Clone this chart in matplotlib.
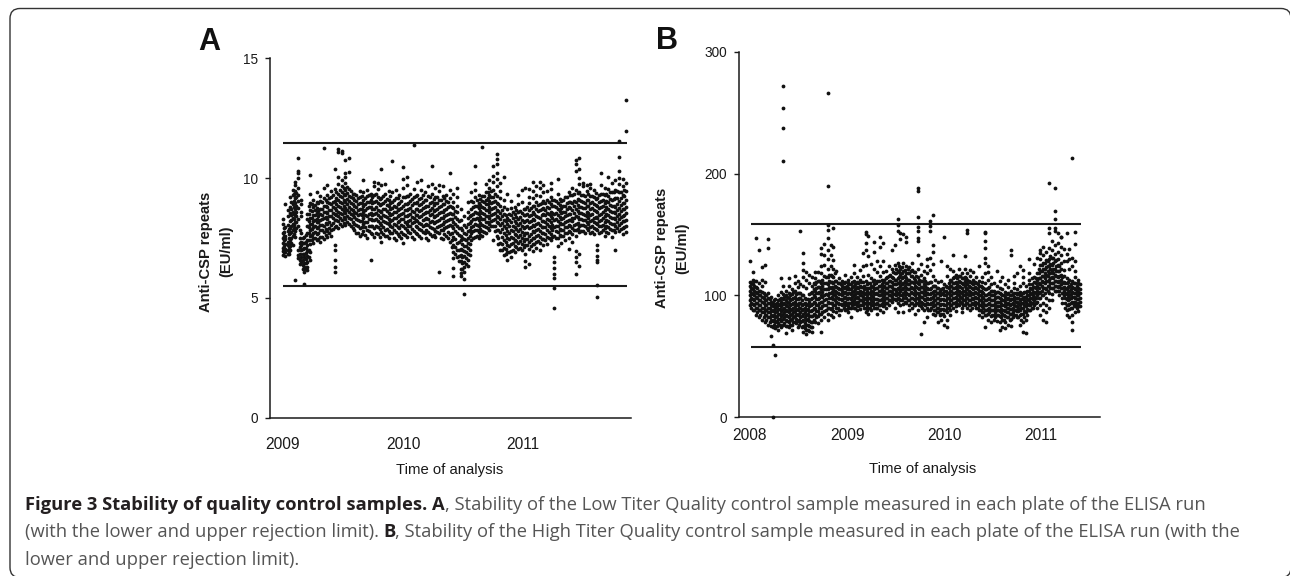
import matplotlib
matplotlib.use('Agg')
import matplotlib.pyplot as plt
from matplotlib.patches import FancyBboxPatch
from matplotlib.transforms import IdentityTransform

W, H = 1290, 576

# panel A, low titer: sampling time (year) and the plates read at that time
a_time = [2009.00, 2009.02, 2009.04, 2009.06, 2009.08, 2009.10, 2009.125, 2009.15, 2009.175, 2009.20,
          2009.225, 2009.25, 2009.28, 2009.31, 2009.34, 2009.37, 2009.40, 2009.43, 2009.46, 2009.49,
          2009.52, 2009.55, 2009.58, 2009.61, 2009.64, 2009.67, 2009.70, 2009.73, 2009.76, 2009.79,
          2009.82, 2009.85, 2009.88, 2009.91, 2009.94, 2009.97, 2010.00, 2010.03, 2010.06, 2010.09,
          2010.12, 2010.15, 2010.18, 2010.21, 2010.24, 2010.27, 2010.30, 2010.33, 2010.36, 2010.39,
          2010.42, 2010.45, 2010.48, 2010.51, 2010.54, 2010.57, 2010.60, 2010.63, 2010.66, 2010.69,
          2010.72, 2010.75, 2010.78, 2010.81, 2010.84, 2010.87, 2010.90, 2010.93, 2010.96, 2010.99,
          2011.02, 2011.05, 2011.08, 2011.11, 2011.14, 2011.17, 2011.20, 2011.23, 2011.26, 2011.29,
          2011.32, 2011.35, 2011.38, 2011.41, 2011.44, 2011.47, 2011.50, 2011.53, 2011.56, 2011.59,
          2011.62, 2011.65, 2011.68, 2011.71, 2011.74, 2011.77, 2011.80, 2011.83, 2011.86]
a_vals = [
    [6.8, 6.95, 7.1, 7.3, 7.5, 7.7, 8.1, 8.3],
    [6.75, 6.9, 7.05, 7.25, 7.45, 7.6, 7.95, 8.9],
    [6.85, 7.0, 7.2, 7.35, 7.8, 8.05, 8.4, 8.65],
    [7.0, 7.15, 7.4, 7.7, 7.9, 8.2, 8.55, 8.8, 9.2],
    [7.2, 7.6, 7.85, 8.1, 8.35, 8.6, 8.9, 9.3, 9.5],
    [5.75, 7.55, 7.8, 8.15, 8.45, 8.7, 8.95, 9.15, 9.45, 9.7, 9.85],
    [6.65, 6.8, 7.0, 8.0, 8.3, 8.75, 9.05, 9.3, 9.6, 10.0, 10.2, 10.3, 10.85],
    [6.5, 6.7, 7.0, 7.2, 7.35, 7.7, 8.4, 8.6, 8.9, 9.1],
    [5.6, 6.1, 6.2, 6.3, 6.45, 6.7, 6.85, 7.1, 7.3, 7.55],
    [6.15, 6.3, 6.5, 6.75, 6.95, 7.2, 7.4, 7.7, 8.0, 8.3, 8.5],
    [6.6, 6.9, 7.25, 7.6, 7.85, 8.1, 8.35, 8.65, 8.95, 9.35, 10.15],
    [7.3, 7.5, 7.7, 7.95, 8.2, 8.45, 8.8, 9.1],
    [7.4, 7.65, 7.9, 8.15, 8.3, 8.55, 8.75, 9.0, 9.4],
    [7.35, 7.55, 7.85, 8.05, 8.25, 8.5, 8.7, 9.05, 9.25],
    [7.45, 7.75, 8.0, 8.35, 8.6, 8.85, 9.15, 9.6, 11.25],
    [7.55, 7.8, 8.1, 8.3, 8.55, 8.8, 9.0, 9.3, 9.7],
    [7.6, 7.85, 8.05, 8.4, 8.65, 8.9, 9.2, 9.45],
    [6.1, 6.3, 6.6, 7.0, 7.2, 7.95, 8.25, 8.5, 8.75, 9.05, 9.55, 10.4],
    [7.9, 8.2, 8.4, 8.6, 8.85, 9.1, 9.35, 9.75, 10.05, 11.1, 11.2],
    [8.0, 8.25, 8.5, 8.7, 8.95, 9.2, 9.4, 9.65, 9.9, 11.05, 11.15],
    [8.05, 8.3, 8.55, 8.75, 9.0, 9.3, 9.5, 9.8, 10.05, 10.2, 10.75],
    [8.1, 8.35, 8.6, 8.8, 9.05, 9.25, 9.55, 10.25, 10.85],
    [7.9, 8.15, 8.45, 8.65, 8.9, 9.15, 9.35],
    [7.7, 8.05, 8.3, 8.55, 8.8, 9.05, 9.3],
    [7.6, 7.9, 8.2, 8.5, 8.7, 8.95, 9.2, 9.45],
    [7.8, 8.1, 8.35, 8.6, 8.85, 9.1, 9.4, 9.9],
    [7.5, 7.85, 8.15, 8.4, 8.75, 9.0, 9.25, 9.5],
    [6.6, 7.7, 8.0, 8.3, 8.55, 8.8, 9.1, 9.35],
    [7.55, 7.9, 8.25, 8.5, 8.7, 9.0, 9.3, 9.65, 9.85],
    [7.65, 7.95, 8.2, 8.45, 8.65, 8.95, 9.2, 9.55, 9.8],
    [7.35, 7.75, 8.05, 8.35, 8.6, 8.9, 9.15, 9.7, 10.4],
    [7.6, 7.85, 8.15, 8.4, 8.7, 9.05, 9.35, 9.75],
    [7.5, 7.8, 8.1, 8.3, 8.55, 8.85, 9.1, 9.45],
    [7.7, 7.95, 8.25, 8.5, 8.75, 9.0, 9.4, 10.7],
    [7.4, 7.75, 8.05, 8.35, 8.6, 8.8, 9.15, 9.5],
    [7.6, 7.9, 8.2, 8.45, 8.7, 8.95, 9.3],
    [7.3, 7.65, 8.0, 8.3, 8.55, 8.85, 9.2, 9.6, 9.95, 10.45],
    [7.55, 7.85, 8.1, 8.4, 8.65, 8.9, 9.25, 9.7, 10.05],
    [7.7, 8.0, 8.25, 8.5, 8.75, 9.05, 9.35],
    [7.45, 7.8, 8.15, 8.35, 8.6, 8.95, 9.2, 9.55, 11.4],
    [7.65, 7.95, 8.2, 8.45, 8.7, 9.0, 9.3, 9.85],
    [7.5, 7.85, 8.1, 8.4, 8.65, 8.9, 9.15, 9.5, 9.9],
    [7.7, 8.05, 8.3, 8.55, 8.8, 9.1, 9.4],
    [7.4, 7.75, 8.05, 8.3, 8.6, 8.85, 9.25, 9.65],
    [7.6, 7.9, 8.2, 8.5, 8.75, 9.0, 9.35, 9.75, 10.5],
    [7.55, 7.8, 8.15, 8.4, 8.65, 8.95, 9.2, 9.6],
    [6.1, 7.7, 8.0, 8.25, 8.55, 8.8, 9.1, 9.45, 9.7],
    [7.45, 7.85, 8.1, 8.35, 8.6, 8.9, 9.25, 9.65],
    [7.6, 7.95, 8.2, 8.45, 8.7, 9.05, 9.3],
    [7.35, 7.65, 8.05, 8.3, 8.55, 8.85, 9.15, 9.5, 10.2],
    [5.9, 6.25, 6.65, 6.9, 7.2, 7.55, 7.9, 8.15, 8.5, 8.75, 9.0, 9.35],
    [6.7, 7.0, 7.3, 7.7, 8.0, 8.3, 8.6, 8.85, 9.2, 9.6],
    [5.9, 6.05, 6.2, 6.55, 6.8, 7.05, 7.4, 7.6, 7.9, 8.25, 8.7],
    [5.15, 5.8, 6.1, 6.3, 6.5, 6.75, 6.95, 7.15, 7.45, 7.7, 8.05, 8.4],
    [6.35, 6.6, 6.85, 7.1, 7.3, 7.5, 7.8, 8.1, 8.35, 8.6, 9.0],
    [7.4, 7.7, 7.95, 8.2, 8.45, 8.7, 9.05, 9.4],
    [7.55, 7.85, 8.1, 8.3, 8.6, 8.85, 9.2, 9.5, 9.8, 10.5],
    [7.5, 7.75, 8.0, 8.25, 8.5, 8.75, 8.95, 9.3],
    [7.6, 7.8, 8.05, 8.3, 8.55, 8.8, 9.05, 9.25, 11.3],
    [7.7, 7.95, 8.15, 8.4, 8.65, 8.9, 9.1, 9.4, 9.75],
    [7.85, 8.1, 8.35, 8.6, 8.8, 9.05, 9.3, 9.6, 9.9],
    [7.4, 8.0, 8.25, 8.5, 8.75, 9.0, 9.2, 9.5, 9.85, 10.1, 10.5],
    [7.6, 7.85, 8.15, 8.4, 8.65, 8.95, 9.25, 9.65, 9.95, 10.2, 10.6, 10.8, 11.0],
    [7.0, 7.3, 7.75, 8.05, 8.3, 8.55, 8.85, 9.15, 9.45, 9.8],
    [6.8, 7.1, 7.4, 7.7, 8.0, 8.25, 8.5, 8.8, 9.1, 10.05],
    [6.6, 6.9, 7.2, 7.5, 7.8, 8.1, 8.35, 8.7, 9.35],
    [6.7, 6.95, 7.25, 7.55, 7.85, 8.15, 8.45, 8.75, 9.05],
    [6.9, 7.15, 7.4, 7.65, 7.95, 8.2, 8.5, 8.8],
    [7.05, 7.3, 7.55, 7.8, 8.05, 8.3, 8.6, 8.9, 9.3],
    [7.0, 7.25, 7.5, 7.75, 8.0, 8.25, 8.55, 9.0, 9.5],
    [6.3, 6.55, 6.85, 7.2, 7.45, 7.7, 7.95, 8.2, 8.45, 8.7, 9.6],
    [6.4, 7.05, 7.35, 7.6, 7.9, 8.15, 8.4, 8.65, 8.95, 9.2, 9.55],
    [6.95, 7.25, 7.5, 7.8, 8.05, 8.3, 8.6, 8.85, 9.15, 9.45, 9.85],
    [7.1, 7.35, 7.6, 7.85, 8.1, 8.4, 8.7, 9.0, 9.3, 9.65],
    [7.0, 7.3, 7.55, 7.8, 8.05, 8.35, 8.65, 8.9, 9.25, 9.6, 9.85],
    [7.2, 7.45, 7.7, 7.95, 8.2, 8.5, 8.75, 9.05, 9.4, 9.7],
    [7.25, 7.55, 7.85, 8.1, 8.3, 8.55, 8.8, 9.1, 9.45],
    [7.4, 7.65, 7.9, 8.15, 8.4, 8.6, 8.9, 9.2, 9.55, 9.8],
    [5.4, 4.56, 5.85, 6.0, 6.25, 6.5, 6.7, 7.6, 7.95, 8.25, 8.5, 8.85, 9.1],
    [7.15, 7.5, 7.75, 8.0, 8.2, 8.45, 8.7, 8.95, 9.35, 9.95],
    [7.3, 7.6, 7.85, 8.1, 8.3, 8.55, 8.75, 9.05],
    [7.4, 7.7, 7.95, 8.15, 8.4, 8.6, 8.85, 9.2],
    [7.05, 7.5, 7.8, 8.05, 8.25, 8.5, 8.8, 9.0, 9.4],
    [7.35, 7.65, 7.9, 8.2, 8.35, 8.65, 8.95, 9.3, 9.6],
    [6.0, 6.5, 6.7, 6.95, 7.6, 7.85, 8.1, 8.4, 8.7, 9.0, 9.5, 10.3, 10.6, 10.75],
    [6.35, 6.85, 7.75, 8.0, 8.3, 8.55, 8.8, 9.1, 9.4, 9.75, 10.0, 10.4, 10.85],
    [7.8, 8.05, 8.25, 8.5, 8.75, 9.0, 9.3, 9.65, 9.8],
    [7.9, 8.15, 8.4, 8.6, 8.85, 9.1, 9.45, 9.7],
    [7.7, 7.95, 8.2, 8.45, 8.7, 8.95, 9.25, 9.6, 9.75],
    [7.65, 7.9, 8.15, 8.35, 8.65, 8.9, 9.2, 9.5],
    [5.05, 5.55, 6.5, 6.6, 6.75, 7.0, 7.2, 7.85, 8.1, 8.35, 8.6, 8.85, 9.15],
    [7.75, 8.0, 8.25, 8.5, 8.8, 9.05, 9.35, 9.7, 10.2],
    [7.6, 7.9, 8.15, 8.4, 8.65, 8.95, 9.3, 9.6],
    [7.7, 7.95, 8.2, 8.45, 8.7, 9.0, 9.25, 9.55, 10.05],
    [7.55, 7.85, 8.1, 8.35, 8.6, 8.85, 9.1, 9.4, 9.8],
    [7.0, 7.75, 8.0, 8.3, 8.55, 8.8, 9.15, 9.5, 9.9],
    [7.8, 8.05, 8.3, 8.5, 8.75, 9.05, 9.4, 9.75, 10.0, 10.3, 11.55, 10.9],
    [7.65, 7.9, 8.2, 8.4, 8.7, 8.95, 9.3, 9.65, 9.95],
    [7.75, 8.0, 8.25, 8.55, 8.8, 9.1, 9.45, 9.8, 13.25, 11.95],
    [7.07, 7.85, 8.1, 8.35, 8.6, 8.9, 9.2, 9.55, 9.9, 10.1, 10.25, 11.05, 11.38],
]

# second reading of the dense band in A, between the columns above
a_time2 = [2009.01, 2009.05, 2009.07, 2009.09, 2009.11, 2009.14, 2009.165, 2009.19, 2009.215, 2009.24,
           2009.265, 2009.295, 2009.325, 2009.355, 2009.385, 2009.415, 2009.445, 2009.475, 2009.505, 2009.535,
           2009.565, 2009.595, 2009.625, 2009.655, 2009.685, 2009.715, 2009.745, 2009.775, 2009.805, 2009.835,
           2009.865, 2009.895, 2009.925, 2009.955, 2009.985, 2010.015, 2010.045, 2010.075, 2010.105, 2010.135,
           2010.165, 2010.195, 2010.225, 2010.255, 2010.285, 2010.315, 2010.345, 2010.375, 2010.405, 2010.435,
           2010.465, 2010.495, 2010.525, 2010.555, 2010.585, 2010.615, 2010.645, 2010.675, 2010.705, 2010.735,
           2010.765, 2010.795, 2010.825, 2010.855, 2010.885, 2010.915, 2010.945, 2010.975, 2011.005, 2011.035,
           2011.065, 2011.095, 2011.125, 2011.155, 2011.185, 2011.215, 2011.245, 2011.275, 2011.305, 2011.335,
           2011.365, 2011.395, 2011.425, 2011.455, 2011.485, 2011.515, 2011.545, 2011.575, 2011.605, 2011.635,
           2011.665, 2011.695, 2011.725, 2011.755, 2011.785, 2011.815, 2011.845]
a_vals2 = [
    [6.9, 7.02, 7.18, 7.4, 7.58, 7.75, 7.9],
    [6.82, 6.97, 7.12, 7.28, 7.52, 7.66, 7.88],
    [7.28, 7.52, 7.76, 8.0, 8.26, 8.46, 8.72, 9.02],
    [7.66, 7.92, 8.04, 8.28, 8.52, 8.78, 9.06, 9.32],
    [7.9, 8.16, 8.42, 8.6, 8.84, 9.22, 9.38],
    [6.42, 6.6, 6.84, 7.12, 7.3, 7.52, 7.82],
    [6.2, 6.38, 6.58, 6.82, 7.04, 7.28, 7.48],
    [6.26, 6.46, 6.62, 6.88, 7.08, 7.34, 7.62],
    [6.72, 7.02, 7.42, 7.72, 7.96, 8.22, 8.52, 8.82],
    [7.42, 7.62, 7.86, 8.08, 8.32, 8.62, 8.92],
    [7.52, 7.74, 8.02, 8.24, 8.44, 8.66, 8.86],
    [7.46, 7.7, 7.96, 8.18, 8.42, 8.64, 8.94],
    [7.56, 7.82, 8.06, 8.28, 8.48, 8.72, 9.02],
    [7.62, 7.88, 8.12, 8.38, 8.58, 8.82, 9.08],
    [7.7, 7.92, 8.18, 8.42, 8.68, 8.94, 9.16],
    [7.86, 8.12, 8.34, 8.56, 8.8, 9.02, 9.28],
    [8.02, 8.26, 8.46, 8.68, 8.92, 9.16, 9.42],
    [8.08, 8.32, 8.54, 8.78, 9.02, 9.26, 9.5],
    [8.12, 8.36, 8.62, 8.84, 9.08, 9.32, 9.58],
    [8.16, 8.42, 8.66, 8.9, 9.12, 9.36, 9.62],
    [8.02, 8.28, 8.5, 8.72, 8.96, 9.22, 9.46],
    [7.82, 8.08, 8.38, 8.6, 8.84, 9.1, 9.32],
    [7.72, 8.0, 8.26, 8.46, 8.68, 8.92, 9.18],
    [7.68, 7.96, 8.22, 8.48, 8.72, 8.98, 9.26],
    [7.62, 7.94, 8.18, 8.44, 8.66, 8.92, 9.16],
    [7.78, 8.02, 8.28, 8.52, 8.78, 9.02, 9.28],
    [7.68, 7.98, 8.24, 8.48, 8.72, 8.96, 9.22],
    [7.72, 8.02, 8.28, 8.54, 8.78, 9.04, 9.32],
    [7.56, 7.88, 8.14, 8.38, 8.64, 8.88, 9.12],
    [7.68, 7.96, 8.2, 8.46, 8.72, 8.98, 9.24],
    [7.58, 7.88, 8.12, 8.38, 8.62, 8.86, 9.14],
    [7.72, 7.98, 8.22, 8.48, 8.72, 8.98, 9.26],
    [7.52, 7.82, 8.08, 8.34, 8.58, 8.84, 9.08],
    [7.68, 7.94, 8.18, 8.42, 8.68, 8.92, 9.18],
    [7.48, 7.76, 8.04, 8.28, 8.52, 8.76, 9.04],
    [7.62, 7.92, 8.16, 8.42, 8.66, 8.92, 9.22],
    [7.74, 7.98, 8.22, 8.46, 8.72, 8.96, 9.24],
    [7.56, 7.86, 8.12, 8.38, 8.62, 8.88, 9.12],
    [7.72, 7.98, 8.24, 8.48, 8.72, 8.98, 9.26],
    [7.58, 7.88, 8.14, 8.38, 8.64, 8.88, 9.14],
    [7.76, 8.02, 8.26, 8.52, 8.76, 9.02, 9.28],
    [7.52, 7.82, 8.08, 8.34, 8.58, 8.84, 9.1],
    [7.66, 7.94, 8.18, 8.44, 8.68, 8.94, 9.22],
    [7.62, 7.86, 8.12, 8.36, 8.62, 8.88, 9.12],
    [7.74, 7.96, 8.22, 8.46, 8.72, 8.98, 9.2],
    [7.52, 7.82, 8.06, 8.32, 8.58, 8.84, 9.08],
    [7.66, 7.92, 8.16, 8.42, 8.66, 8.92, 9.18],
    [7.48, 7.76, 8.02, 8.26, 8.52, 8.78, 9.02],
    [7.12, 7.42, 7.72, 8.02, 8.28, 8.52, 8.78],
    [6.82, 7.14, 7.46, 7.78, 8.08, 8.36, 8.62],
    [6.52, 6.76, 7.02, 7.32, 7.62, 7.92, 8.22],
    [6.22, 6.46, 6.72, 6.98, 7.26, 7.52, 7.82],
    [6.42, 6.66, 6.92, 7.18, 7.42, 7.66, 7.96],
    [6.78, 7.02, 7.24, 7.58, 7.84, 8.12, 8.42],
    [7.52, 7.78, 8.02, 8.28, 8.52, 8.78, 9.02],
    [7.58, 7.82, 8.06, 8.32, 8.56, 8.82, 9.08],
    [7.64, 7.88, 8.12, 8.36, 8.62, 8.86, 9.12],
    [7.76, 8.02, 8.28, 8.52, 8.76, 9.02, 9.26],
    [7.92, 8.18, 8.42, 8.66, 8.92, 9.18, 9.42],
    [7.98, 8.22, 8.46, 8.72, 8.96, 9.22, 9.48],
    [7.78, 8.02, 8.28, 8.54, 8.78, 9.06, 9.32],
    [7.24, 7.52, 7.82, 8.12, 8.38, 8.62, 8.92],
    [6.98, 7.26, 7.56, 7.86, 8.14, 8.42, 8.68],
    [6.82, 7.06, 7.34, 7.62, 7.92, 8.22, 8.46],
    [6.92, 7.18, 7.46, 7.72, 7.98, 8.26, 8.52],
    [7.02, 7.28, 7.52, 7.78, 8.02, 8.32, 8.58],
    [7.12, 7.38, 7.62, 7.88, 8.12, 8.38, 8.68],
    [7.08, 7.36, 7.62, 7.86, 8.12, 8.38, 8.62],
    [7.12, 7.38, 7.64, 7.92, 8.18, 8.44, 8.72],
    [7.22, 7.46, 7.72, 7.98, 8.24, 8.52, 8.78],
    [7.16, 7.42, 7.68, 7.96, 8.22, 8.48, 8.76],
    [7.26, 7.52, 7.76, 8.02, 8.26, 8.52, 8.82],
    [7.36, 7.62, 7.88, 8.12, 8.36, 8.62, 8.88],
    [7.46, 7.72, 7.96, 8.22, 8.46, 8.72, 8.98],
    [7.42, 7.68, 7.94, 8.18, 8.44, 8.68, 8.96],
    [7.48, 7.74, 8.02, 8.26, 8.52, 8.76, 9.02],
    [7.56, 7.82, 8.06, 8.32, 8.56, 8.82, 9.08],
    [7.52, 7.78, 8.02, 8.28, 8.54, 8.78, 9.06],
    [7.62, 7.88, 8.12, 8.36, 8.62, 8.88, 9.12],
    [7.58, 7.84, 8.08, 8.34, 8.58, 8.84, 9.08],
    [7.72, 7.96, 8.22, 8.46, 8.72, 8.96, 9.22],
    [7.76, 8.02, 8.26, 8.52, 8.76, 9.02, 9.28],
    [7.82, 8.06, 8.32, 8.56, 8.82, 9.06, 9.32],
    [7.86, 8.12, 8.36, 8.62, 8.86, 9.12, 9.36],
    [7.78, 8.04, 8.28, 8.54, 8.78, 9.04, 9.3],
    [7.72, 7.98, 8.24, 8.48, 8.74, 8.98, 9.24],
    [7.82, 8.08, 8.32, 8.56, 8.82, 9.08, 9.34],
    [7.74, 8.02, 8.26, 8.52, 8.76, 9.02, 9.26],
    [7.86, 8.12, 8.36, 8.62, 8.86, 9.12, 9.38],
    [7.72, 7.98, 8.22, 8.48, 8.74, 9.02, 9.28],
    [7.82, 8.06, 8.32, 8.58, 8.82, 9.08, 9.34],
    [7.76, 8.02, 8.26, 8.52, 8.78, 9.04, 9.32],
    [7.88, 8.14, 8.38, 8.62, 8.88, 9.14, 9.42],
    [7.82, 8.08, 8.34, 8.58, 8.84, 9.12, 9.4],
    [7.92, 8.16, 8.42, 8.66, 8.92, 9.18, 9.46],
    [7.86, 8.12, 8.36, 8.62, 8.88, 9.16, 9.44],
    [7.96, 8.22, 8.46, 8.72, 8.98, 9.26, 9.52],
]

# panel B, high titer
b_time = [2008.00, 2008.03, 2008.06, 2008.09, 2008.12, 2008.155, 2008.19, 2008.22, 2008.237, 2008.26,
          2008.29, 2008.32, 2008.34, 2008.37, 2008.40, 2008.43, 2008.46, 2008.49, 2008.52, 2008.55,
          2008.58, 2008.61, 2008.64, 2008.67, 2008.70, 2008.73, 2008.76, 2008.803, 2008.83, 2008.86,
          2008.89, 2008.92, 2008.95, 2008.98, 2009.01, 2009.04, 2009.07, 2009.10, 2009.13, 2009.16,
          2009.19, 2009.22, 2009.25, 2009.28, 2009.31, 2009.34, 2009.37, 2009.40, 2009.43, 2009.46,
          2009.49, 2009.52, 2009.55, 2009.58, 2009.61, 2009.64, 2009.67, 2009.70, 2009.733, 2009.76,
          2009.79, 2009.82, 2009.85, 2009.88, 2009.91, 2009.94, 2009.97, 2010.00, 2010.03, 2010.06,
          2010.09, 2010.12, 2010.15, 2010.18, 2010.21, 2010.24, 2010.27, 2010.30, 2010.33, 2010.36,
          2010.39, 2010.42, 2010.45, 2010.48, 2010.51, 2010.54, 2010.57, 2010.60, 2010.63, 2010.66,
          2010.69, 2010.72, 2010.75, 2010.78, 2010.81, 2010.84, 2010.87, 2010.90, 2010.93, 2010.96,
          2010.99, 2011.02, 2011.05, 2011.08, 2011.11, 2011.14, 2011.17, 2011.20, 2011.23, 2011.26,
          2011.29, 2011.32, 2011.35, 2011.38]
b_vals = [
    [92, 96, 100, 104, 108, 111, 128],
    [88, 93, 97, 101, 105, 109, 113, 119],
    [84, 90, 94, 99, 103, 107, 112, 147],
    [82, 88, 92, 96, 100, 104, 110, 137],
    [80, 86, 90, 95, 99, 103, 108, 113, 123],
    [78, 84, 88, 92, 96, 100, 111, 125],
    [76, 82, 86, 90, 94, 98, 102, 146, 139],
    [75, 80, 84, 88, 92, 95, 99, 67],
    [0, 59, 74, 79, 83, 87, 91, 94],
    [51, 73, 78, 82, 86, 90, 93, 97],
    [72, 77, 81, 85, 89, 92, 96, 100],
    [74, 79, 83, 87, 91, 95, 98, 103, 114],
    [272, 254, 237, 210, 76, 81, 85, 89, 93, 97, 101, 108],
    [69, 75, 80, 84, 88, 92, 96, 100, 104],
    [74, 78, 82, 86, 90, 94, 98, 102, 108, 114],
    [72, 76, 81, 85, 89, 93, 97, 101, 105],
    [78, 83, 87, 91, 95, 99, 104, 110, 116],
    [74, 79, 84, 88, 92, 97, 102, 107, 112],
    [78, 82, 86, 90, 94, 98, 102, 109, 153],
    [70, 75, 80, 85, 89, 93, 100, 108, 115, 121, 127, 135],
    [68, 72, 76, 80, 84, 88, 92, 97, 106, 113, 119],
    [71, 75, 79, 83, 87, 91, 95, 101, 110, 117],
    [70, 74, 78, 83, 88, 93, 98, 103, 108, 115],
    [78, 84, 89, 94, 99, 104, 109, 114, 119],
    [77, 83, 87, 92, 97, 102, 107, 112, 119],
    [70, 80, 85, 90, 95, 100, 105, 110, 118, 124, 134, 139],
    [82, 87, 92, 96, 100, 105, 110, 116, 125, 133, 142],
    [266, 190, 158, 154, 147, 80, 85, 90, 95, 100, 105, 109, 115, 122, 130, 137],
    [84, 89, 94, 98, 102, 106, 111, 117, 124, 133, 141],
    [82, 87, 92, 97, 101, 105, 110, 115, 122, 129, 140, 155],
    [86, 90, 95, 99, 103, 107, 112, 120],
    [84, 88, 93, 97, 101, 105, 110, 114],
    [92, 96, 100, 104, 108, 112],
    [88, 92, 95, 99, 103, 107, 111, 117],
    [86, 91, 94, 98, 102, 106, 110, 113],
    [82, 90, 94, 97, 101, 105, 109, 115],
    [90, 93, 96, 100, 104, 108, 112, 118, 125],
    [88, 92, 95, 99, 103, 107, 111, 115],
    [89, 92, 96, 100, 104, 108, 113, 121],
    [92, 95, 99, 103, 107, 111, 116, 124, 135],
    [86, 90, 94, 98, 102, 106, 112, 125, 137, 143, 150, 152],
    [85, 90, 94, 98, 102, 106, 110, 117, 132, 149],
    [88, 92, 96, 100, 104, 108, 114, 126],
    [90, 93, 97, 101, 105, 109, 113, 122, 136, 144],
    [85, 90, 94, 97, 101, 106, 112, 119, 128],
    [88, 92, 96, 100, 104, 108, 116, 124, 140, 148],
    [86, 91, 95, 99, 103, 107, 111, 119, 128, 143],
    [90, 94, 98, 102, 106, 110, 114, 120],
    [92, 96, 100, 104, 108, 112, 116, 124],
    [95, 99, 103, 107, 111, 115, 122, 137],
    [90, 97, 101, 105, 109, 113, 118, 125, 141],
    [86, 94, 98, 102, 106, 110, 114, 120, 127, 153, 158, 163],
    [92, 96, 100, 104, 108, 112, 117, 122, 146, 151],
    [86, 93, 98, 102, 106, 110, 115, 120, 127, 150],
    [94, 98, 102, 106, 110, 114, 118, 124, 144, 148],
    [88, 92, 96, 100, 105, 109, 113, 118, 123],
    [90, 94, 98, 102, 106, 111, 116, 121, 127],
    [85, 92, 96, 100, 104, 108, 113, 119],
    [186, 188, 164, 156, 153, 147, 88, 94, 98, 102, 106, 110, 115, 122, 133, 145],
    [68, 91, 95, 99, 103, 107, 112, 117, 126],
    [78, 88, 93, 97, 101, 105, 109, 114, 120],
    [82, 90, 94, 98, 102, 106, 110, 118, 124, 130],
    [88, 93, 97, 101, 105, 111, 121, 131, 157, 153, 161],
    [85, 91, 95, 99, 103, 108, 116, 126, 136, 141, 166],
    [84, 88, 92, 96, 100, 104, 108, 113],
    [78, 86, 90, 94, 98, 102, 106, 111],
    [80, 85, 89, 93, 97, 101, 105, 112, 128],
    [76, 83, 88, 92, 96, 100, 104, 109, 148],
    [74, 80, 86, 90, 94, 98, 102, 107, 116, 124],
    [84, 88, 92, 96, 100, 104, 108, 113, 122],
    [90, 94, 98, 102, 106, 110, 114, 120, 133],
    [87, 91, 95, 99, 103, 107, 111, 117],
    [92, 96, 100, 104, 108, 112, 116, 122],
    [86, 90, 94, 98, 102, 106, 110, 114, 118],
    [92, 96, 100, 104, 108, 112, 115, 122, 132],
    [90, 94, 98, 101, 105, 109, 113, 118, 154, 151],
    [88, 92, 96, 100, 103, 107, 111, 116, 121],
    [93, 97, 101, 105, 109, 113, 119],
    [90, 94, 98, 102, 106, 110, 115],
    [84, 88, 92, 96, 100, 104, 108, 112, 124],
    [82, 86, 91, 95, 99, 103, 107, 111, 115],
    [74, 84, 88, 92, 96, 100, 105, 110, 118, 127, 131, 139, 145, 151, 152],
    [80, 85, 89, 93, 97, 101, 106, 113, 119, 124],
    [78, 83, 88, 92, 96, 100, 104, 109, 115],
    [80, 84, 88, 92, 96, 100, 104, 110],
    [79, 84, 88, 91, 95, 99, 103, 108, 120],
    [72, 78, 83, 87, 91, 95, 98, 102, 106, 112],
    [74, 80, 85, 88, 92, 96, 100, 105, 115],
    [73, 78, 83, 87, 91, 95, 99, 103, 109],
    [76, 82, 86, 90, 94, 98, 102, 107, 113],
    [75, 81, 85, 89, 93, 97, 100, 104, 133, 137],
    [84, 88, 92, 96, 99, 102, 106, 110, 116],
    [82, 87, 91, 95, 98, 101, 105, 118],
    [76, 84, 88, 92, 96, 100, 103, 108, 124],
    [70, 78, 85, 90, 94, 98, 102, 110, 115, 121],
    [69, 80, 86, 91, 95, 99, 103, 108],
    [88, 92, 96, 100, 104, 109, 113, 118, 130],
    [90, 94, 98, 101, 105, 109, 114],
    [92, 96, 99, 103, 107, 111, 115, 126],
    [90, 95, 100, 104, 108, 113, 118, 131],
    [84, 92, 98, 103, 109, 114, 120, 125, 130, 135, 137],
    [80, 88, 94, 100, 106, 111, 116, 122, 127, 133, 140],
    [78, 86, 92, 98, 105, 112, 117, 123, 129, 136],
    [192, 90, 96, 102, 108, 113, 118, 124, 130, 139, 155, 151],
    [96, 101, 106, 110, 115, 120, 125, 131, 137, 145],
    [188.5, 169, 163, 155, 153, 104, 108, 112, 117, 122, 128, 134, 141],
    [104, 107, 111, 115, 120, 125, 130, 136, 143, 151],
    [106, 109, 113, 117, 122, 127, 133, 140, 148, 148],
    [100, 104, 107, 111, 116, 121, 128, 138],
    [84, 88, 92, 97, 101, 105, 110, 114, 128, 134, 151],
    [82, 89, 93, 97, 100, 104, 108, 113, 122, 138, 130],
    [213, 72, 78, 84, 90, 95, 99, 103, 107, 112, 124, 131],
    [86, 91, 95, 98, 102, 105, 110, 115, 120, 128, 152, 142],
    [87, 91, 94, 97, 100, 103, 106, 110, 113],
]

# second reading of the dense band in B
b_time2 = [2008.015, 2008.045, 2008.075, 2008.105, 2008.14, 2008.17, 2008.205, 2008.25, 2008.275, 2008.305,
           2008.355, 2008.385, 2008.415, 2008.445, 2008.475, 2008.505, 2008.535, 2008.565, 2008.595, 2008.625,
           2008.655, 2008.685, 2008.715, 2008.745, 2008.78, 2008.815, 2008.845, 2008.875, 2008.905, 2008.935,
           2008.965, 2008.995, 2009.025, 2009.055, 2009.085, 2009.115, 2009.145, 2009.175, 2009.205, 2009.235,
           2009.265, 2009.295, 2009.325, 2009.355, 2009.385, 2009.415, 2009.445, 2009.475, 2009.505, 2009.535,
           2009.565, 2009.595, 2009.625, 2009.655, 2009.685, 2009.715, 2009.745, 2009.775, 2009.805, 2009.835,
           2009.865, 2009.895, 2009.925, 2009.955, 2009.985, 2010.015, 2010.045, 2010.075, 2010.105, 2010.135,
           2010.165, 2010.195, 2010.225, 2010.255, 2010.285, 2010.315, 2010.345, 2010.375, 2010.405, 2010.435,
           2010.465, 2010.495, 2010.525, 2010.555, 2010.585, 2010.615, 2010.645, 2010.675, 2010.705, 2010.735,
           2010.765, 2010.795, 2010.825, 2010.855, 2010.885, 2010.915, 2010.945, 2010.975, 2011.005, 2011.035,
           2011.065, 2011.095, 2011.125, 2011.155, 2011.185, 2011.215, 2011.245, 2011.275, 2011.305, 2011.335,
           2011.365, 2011.395]
b_vals2 = [
    [90, 94, 98, 102, 106, 110],
    [88, 92, 96, 100, 104, 108, 112],
    [86, 90, 94, 98, 102, 106],
    [84, 88, 92, 96, 100, 104],
    [82, 86, 90, 94, 98, 102],
    [80, 84, 88, 92, 96, 100],
    [78, 82, 86, 90, 94, 97],
    [76, 80, 84, 88, 92, 96],
    [75, 79, 83, 87, 91, 94],
    [76, 81, 85, 89, 93, 97],
    [77, 82, 86, 90, 94, 99],
    [75, 79, 83, 87, 91, 95, 99],
    [76, 80, 84, 88, 92, 96, 100],
    [78, 82, 86, 90, 94, 98, 103],
    [77, 81, 85, 89, 93, 97, 101],
    [76, 80, 85, 90, 94, 98, 102],
    [74, 79, 83, 88, 92, 96, 100],
    [73, 77, 82, 86, 90, 94, 98],
    [72, 76, 81, 85, 89, 93, 97],
    [74, 78, 83, 87, 92, 97, 102],
    [80, 85, 90, 95, 100, 105, 110],
    [82, 87, 92, 97, 102, 106, 111],
    [85, 90, 94, 98, 103, 107, 112],
    [86, 91, 95, 99, 103, 108, 113],
    [88, 92, 97, 101, 105, 110, 115],
    [90, 94, 98, 102, 107, 112, 117],
    [90, 94, 99, 103, 107, 111, 116],
    [92, 96, 100, 104, 108, 112, 118],
    [90, 94, 98, 102, 106, 110],
    [88, 93, 97, 101, 105, 109],
    [90, 94, 98, 102, 106, 110],
    [89, 93, 97, 101, 105, 108],
    [90, 94, 98, 102, 105, 109],
    [92, 95, 99, 103, 107, 111],
    [90, 94, 98, 101, 105, 109],
    [91, 95, 98, 102, 106, 110],
    [92, 96, 100, 103, 107, 111],
    [90, 94, 97, 101, 105, 108],
    [88, 92, 96, 100, 104, 109],
    [90, 94, 98, 102, 106, 110],
    [92, 95, 99, 103, 107, 112],
    [90, 93, 97, 102, 106, 110],
    [92, 96, 100, 104, 108, 112],
    [93, 97, 101, 105, 109, 113],
    [92, 96, 100, 104, 108, 113],
    [94, 98, 102, 106, 110, 115],
    [96, 100, 104, 108, 112, 117],
    [97, 101, 105, 109, 114, 119],
    [96, 100, 104, 109, 113, 118, 122],
    [97, 101, 105, 110, 115, 119, 124],
    [96, 100, 105, 109, 114, 118, 123],
    [95, 100, 104, 108, 112, 116, 121],
    [96, 101, 105, 109, 113, 118, 122],
    [94, 98, 103, 107, 111, 116, 120],
    [92, 97, 101, 105, 110, 114, 119],
    [94, 98, 102, 107, 111, 116],
    [92, 96, 100, 105, 109, 113],
    [90, 94, 99, 103, 107, 112],
    [92, 96, 100, 104, 108, 112],
    [88, 93, 97, 101, 105, 110],
    [90, 94, 98, 102, 106, 111],
    [88, 92, 96, 100, 104, 108],
    [86, 90, 94, 98, 102, 106],
    [84, 88, 92, 96, 100, 104],
    [85, 89, 93, 97, 102, 106],
    [88, 92, 96, 100, 104, 108],
    [90, 94, 98, 102, 106, 110],
    [92, 96, 100, 104, 108, 112],
    [94, 98, 102, 106, 110, 115],
    [93, 97, 101, 105, 109, 114],
    [95, 99, 103, 107, 111, 116],
    [92, 96, 100, 104, 109, 114],
    [94, 98, 102, 106, 110, 114],
    [92, 96, 100, 104, 108, 112],
    [90, 94, 98, 102, 106, 110],
    [92, 95, 99, 103, 107, 111],
    [90, 94, 98, 101, 105, 109],
    [88, 92, 96, 100, 104, 108],
    [86, 90, 94, 98, 102, 106],
    [84, 88, 92, 96, 100, 105],
    [86, 90, 94, 98, 102, 107],
    [84, 88, 92, 96, 100, 104],
    [82, 86, 90, 94, 98, 102],
    [84, 88, 91, 95, 99, 103],
    [82, 86, 89, 93, 97, 101],
    [80, 84, 88, 92, 96, 100],
    [82, 86, 90, 93, 97, 101],
    [80, 85, 89, 92, 96, 100],
    [82, 86, 90, 94, 97, 101],
    [84, 88, 91, 95, 98, 102],
    [82, 87, 90, 94, 98, 102],
    [80, 85, 90, 94, 97, 100],
    [82, 87, 92, 96, 99, 103],
    [84, 89, 93, 97, 100, 104],
    [88, 92, 95, 98, 102, 106],
    [90, 94, 97, 100, 103, 107],
    [94, 98, 102, 106, 110, 114],
    [98, 102, 106, 110, 114, 118, 122],
    [100, 104, 108, 112, 116, 120, 125],
    [102, 106, 110, 114, 118, 122, 127],
    [104, 108, 112, 116, 120, 124, 128],
    [106, 110, 114, 118, 122, 126, 132],
    [106, 110, 114, 118, 122, 127, 131],
    [104, 108, 112, 116, 120, 124, 129],
    [100, 104, 108, 112, 116, 120, 124],
    [94, 98, 102, 106, 110, 115],
    [90, 94, 98, 102, 106, 110],
    [92, 96, 99, 103, 107, 111],
    [90, 94, 98, 101, 105, 109],
    [92, 95, 99, 102, 106, 110],
    [90, 93, 97, 100, 104, 108],
    [91, 95, 98, 102, 105, 109],
]

a_limits = [5.51, 11.45]
b_limits = [57.7, 158.7]
a_years = [2009, 2010, 2011]
b_years = [2008, 2009, 2010, 2011]

INK = '#1a1a1a'
plt.rcParams['font.family'] = ['Liberation Sans', 'DejaVu Sans']

fig = plt.figure(figsize=(W / 100, H / 100), dpi=100)


def add_panel(left, right, top, bottom, xlim, ylim, yticks, xpad):
    ax = fig.add_axes([left / W, 1 - bottom / H, (right - left) / W, (bottom - top) / H])
    ax.set_xlim(xlim)
    ax.set_ylim(ylim)
    ax.set_yticks(yticks)
    for s in ['top', 'right']:
        ax.spines[s].set_visible(False)
    for s in ['left', 'bottom']:
        ax.spines[s].set_linewidth(1.1)
        ax.spines[s].set_color(INK)
    ax.tick_params(axis='y', length=3.8, width=1.0, color=INK, labelsize=9.8, labelcolor=INK, pad=5)
    ax.tick_params(axis='x', length=0, labelsize=11.2, labelcolor=INK, pad=xpad)
    return ax


def scatter_columns(ax, times, vals):
    xs, ys = [], []
    for t, col in zip(times, vals):
        xs += [t] * len(col)
        ys += col
    ax.scatter(xs, ys, s=7.5, color='#111111', linewidths=0, clip_on=False, zorder=3)


# A
ax1 = add_panel(270, 630.7, 58.3, 417.7, (2008.892, 2011.898), (0, 15), [0, 5, 10, 15], 14)
scatter_columns(ax1, a_time, a_vals)
scatter_columns(ax1, a_time2, a_vals2)
ax1.hlines(a_limits, 2009.0, 2011.87, color=INK, lw=1.5, zorder=2)
ax1.set_xticks(a_years)

# B
ax2 = add_panel(739, 1100, 51.7, 417.3, (2007.887, 2011.605), (0, 300), [0, 100, 200, 300], 8)
scatter_columns(ax2, b_time, b_vals)
scatter_columns(ax2, b_time2, b_vals2)
ax2.hlines(b_limits, 2008.01, 2011.41, color=INK, lw=1.5, zorder=2)
ax2.set_xticks(b_years)


def px_text(x, y, s, **kw):
    return fig.text(x / W, 1 - y / H, s, ha=kw.pop('ha', 'center'), va=kw.pop('va', 'center'), **kw)


px_text(209, 42, 'A', fontsize=22, fontweight='bold', color='#111111')
px_text(667, 41, 'B', fontsize=22, fontweight='bold', color='#111111')
for x1, x2, yc in [(206, 226, 251.5), (662, 682, 248)]:
    px_text(x1, yc, 'Anti-CSP repeats', rotation=90, fontsize=10.6, fontweight='bold', color=INK)
    px_text(x2, yc, '(EU/ml)', rotation=90, fontsize=10.6, fontweight='bold', color=INK)
px_text(450, 470, 'Time of analysis', fontsize=10.7, color=INK)
px_text(923, 469, 'Time of analysis', fontsize=10.7, color=INK)

# rounded frame, runs off the right and bottom of the picture
frame = FancyBboxPatch((10, -1.5), 1281, H - 7, boxstyle='round,pad=0,rounding_size=10',
                       transform=IdentityTransform(), fill=False, ec='#333333', lw=1.0)
fig.add_artist(frame)

# caption, bold and light runs on one baseline
lines = [
    (25, 510, [('Figure 3 Stability of quality control samples. A', True),
               (', Stability of the Low Titer Quality control sample measured in each plate of the ELISA run', False)]),
    (25, 537, [('(with the lower and upper rejection limit). ', False), ('B', True),
               (', Stability of the High Titer Quality control sample measured in each plate of the ELISA run (with the', False)]),
    (25, 565, [('lower and upper rejection limit).', False)]),
]
fig.canvas.draw()
rend = fig.canvas.get_renderer()
for x, y, runs in lines:
    for s, bold in runs:
        wt = 'bold' if bold else 'normal'
        px_text(x, y, s, ha='left', va='baseline', family='Open Sans', fontsize=13.2,
                fontweight=wt, color='#231f20' if bold else '#555555')
        # keep trailing space width by measuring with a dot appended
        dot = fig.text(0, 0, s + '.', family='Open Sans', fontsize=13.2, fontweight=wt)
        dw = fig.text(0, 0, '.', family='Open Sans', fontsize=13.2, fontweight=wt)
        x += dot.get_window_extent(rend).width - dw.get_window_extent(rend).width
        dot.remove()
        dw.remove()

fig.savefig('out.png', dpi=100)
